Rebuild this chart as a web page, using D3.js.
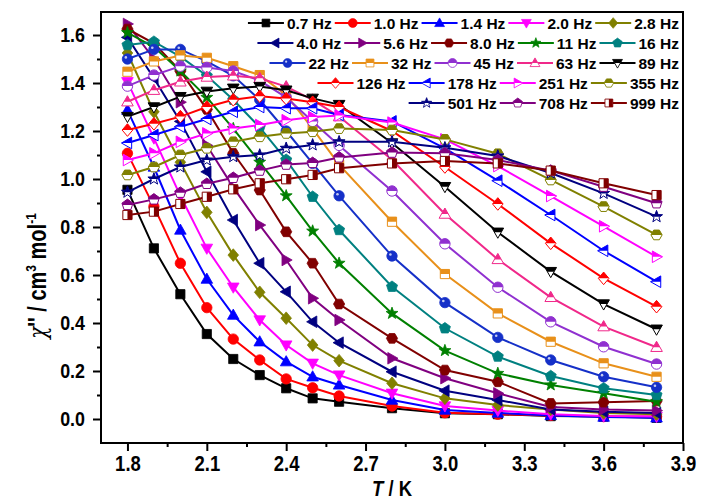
<!DOCTYPE html>
<html><head><meta charset="utf-8">
<script src="https://cdn.jsdelivr.net/npm/d3@7"></script>
<style>
body{margin:0;background:#fff}
svg{display:block}
text{font-family:"Liberation Sans",Arial,sans-serif;font-weight:bold}
</style>
</head><body>
<svg id="chart" width="701" height="501"></svg>
<script>
// Temperatures (K) at which chi'' was measured
const temps = [1.8,1.9,2.0,2.1,2.2,2.3,2.4,2.5,2.6,2.8,3.0,3.2,3.4,3.6,3.8];

// Out-of-phase susceptibility chi'' (cm3 mol-1) per ac frequency
const chi_0p7 = [0.955,0.711,0.52,0.354,0.25,0.183,0.128,0.086,0.072,0.045,0.024,0.02,0.012,0.01,0.005];
const chi_1p0 = [1.107,0.885,0.649,0.464,0.333,0.246,0.167,0.13,0.096,0.054,0.026,0.02,0.015,0.01,0.01];
const chi_1p4 = [1.287,1.05,0.7875,0.583,0.433,0.322,0.239,0.176,0.142,0.079,0.0375,0.025,0.015,0.008,0.005];
const chi_2p0 = [1.405,1.17,0.93,0.711,0.549,0.4125,0.308,0.232,0.183,0.107,0.054,0.035,0.02,0.012,0.01];
const chi_2p8 = [1.525,1.28,1.07,0.861,0.683,0.528,0.42,0.308,0.243,0.149,0.086,0.058,0.04,0.025,0.02];
const chi_4p0 = [1.59,1.42,1.24,1.03,0.829,0.649,0.53,0.405,0.318,0.197,0.118,0.079,0.04,0.03,0.025];
const chi_5p6 = [1.646,1.50,1.32,1.14,0.965,0.808,0.6625,0.503,0.4125,0.253,0.17,0.107,0.05,0.04,0.035];
const chi_8p0 = [1.625,1.565,1.45,1.29,1.107,0.954,0.78,0.649,0.479,0.336,0.204,0.155,0.065,0.07,0.075];
const chi_11  = [1.61,1.55,1.45,1.34,1.21,1.07,0.93,0.783,0.649,0.44,0.285,0.19,0.142,0.107,0.072];
const chi_16  = [1.558,1.572,1.51,1.43,1.33,1.215,1.08,0.926,0.7875,0.551,0.378,0.26,0.179,0.128,0.1];
const chi_22  = [1.50,1.54,1.54,1.49,1.43,1.33,1.20,1.065,0.93,0.679,0.485,0.34,0.246,0.176,0.132];
const chi_32  = [1.447,1.49,1.515,1.505,1.47,1.433,1.35,1.21,1.06,0.822,0.604,0.44,0.322,0.232,0.176];
const chi_45  = [1.387,1.433,1.47,1.465,1.45,1.41,1.34,1.24,1.14,0.95,0.73,0.549,0.405,0.301,0.229];
const chi_63  = [1.322,1.37,1.405,1.425,1.43,1.42,1.385,1.33,1.26,1.08,0.854,0.665,0.507,0.385,0.299];
const chi_89  = [1.26,1.30,1.343,1.365,1.378,1.385,1.37,1.336,1.31,1.15,0.968,0.778,0.614,0.479,0.374];
const chi_126 = [1.204,1.23,1.26,1.30,1.33,1.345,1.335,1.32,1.30,1.20,1.05,0.896,0.732,0.586,0.468];
const chi_178 = [1.15,1.183,1.218,1.25,1.28,1.30,1.295,1.295,1.267,1.24,1.128,0.993,0.85,0.701,0.572];
const chi_251 = [1.079,1.107,1.155,1.19,1.21,1.225,1.245,1.258,1.265,1.235,1.165,1.054,0.929,0.803,0.676];
const chi_355 = [1.017,1.05,1.10,1.128,1.155,1.176,1.19,1.197,1.21,1.204,1.165,1.105,0.996,0.885,0.767];
const chi_501 = [0.945,1.0,1.05,1.079,1.093,1.10,1.128,1.142,1.155,1.155,1.13,1.096,1.025,0.94,0.843];
const chi_708 = [0.892,0.915,0.943,0.98,1.005,1.035,1.06,1.067,1.09,1.11,1.107,1.079,1.035,0.968,0.899];
const chi_999 = [0.85,0.864,0.896,0.926,0.957,0.982,0.999,1.017,1.045,1.065,1.075,1.065,1.035,0.982,0.933];

const freqLabels = ["0.7 Hz","1.0 Hz","1.4 Hz","2.0 Hz","2.8 Hz","4.0 Hz","5.6 Hz","8.0 Hz","11 Hz","16 Hz",
  "22 Hz","32 Hz","45 Hz","63 Hz","89 Hz","126 Hz","178 Hz","251 Hz","355 Hz","501 Hz","708 Hz","999 Hz"];
const chiSeries = [chi_0p7,chi_1p0,chi_1p4,chi_2p0,chi_2p8,chi_4p0,chi_5p6,chi_8p0,chi_11,chi_16,
  chi_22,chi_32,chi_45,chi_63,chi_89,chi_126,chi_178,chi_251,chi_355,chi_501,chi_708,chi_999];
const seriesColors = ["#000000","#FF0000","#0000FF","#FF00FF","#808000","#000080","#800080","#800000","#008000","#008080",
  "#1530C8","#E8901A","#9030D0","#F0288A","#000000","#FF0000","#0000FF","#FF00FF","#808000","#000080","#800080","#800000"];
const seriesShapes = ["square","circle","up","down","diamond","left","right","hexagon","star","pentagon",
  "sphere","square","circle","up","down","diamond","left","right","hexagon","star","pentagon","square"];
// fill style: full, top half, or right half
const seriesFill = ["full","full","full","full","full","full","full","full","full","full",
  "full","top","top","top","top","top","top","top","top","top","top","right"];

const xTicks = [1.8,2.1,2.4,2.7,3.0,3.3,3.6,3.9];
const yTicks = [0.0,0.2,0.4,0.6,0.8,1.0,1.2,1.4,1.6];

const svg = d3.select("#chart");
const x = d3.scaleLinear().domain([1.7,3.9]).range([101,683]);
const y = d3.scaleLinear().domain([-0.1,1.7]).range([443,11]);

// marker outlines, centred on the origin
function poly(pts){ return "M" + pts.map(p => p[0].toFixed(2)+","+p[1].toFixed(2)).join("L") + "Z"; }
function regular(n, r, rot){ const a=[]; for(let i=0;i<n;i++){const t=rot+i*2*Math.PI/n; a.push([r*Math.cos(t), r*Math.sin(t)]);} return a; }
function shapePath(s){
  switch(s){
    case "square": return poly([[-4.6,-4.6],[4.6,-4.6],[4.6,4.6],[-4.6,4.6]]);
    case "circle": case "sphere": return "M5.2,0A5.2,5.2 0 1,1 -5.2,0A5.2,5.2 0 1,1 5.2,0Z";
    case "up": return poly([[0,-6],[5.8,4.2],[-5.8,4.2]]);
    case "down": return poly([[0,6],[5.8,-4.2],[-5.8,-4.2]]);
    case "diamond": return poly([[0,-6.3],[5.3,0],[0,6.3],[-5.3,0]]);
    case "left": return poly([[-6,0],[4.2,-5.8],[4.2,5.8]]);
    case "right": return poly([[6,0],[-4.2,-5.8],[-4.2,5.8]]);
    case "hexagon": return poly(regular(6,5.6,0));
    case "pentagon": return poly(regular(5,5.8,-Math.PI/2));
    case "star": { const a=[]; for(let i=0;i<10;i++){const r=i%2?2.6:6.3; const t=-Math.PI/2+i*Math.PI/5; a.push([r*Math.cos(t),r*Math.sin(t)]);} return poly(a); }
  }
}

const defs = svg.append("defs");
defs.append("clipPath").attr("id","half-top").append("rect").attr("x",-10).attr("y",-10).attr("width",20).attr("height",10);
defs.append("clipPath").attr("id","half-right").append("rect").attr("x",0).attr("y",-10).attr("width",10).attr("height",20);

function drawMarker(g, i){
  const c = seriesColors[i], s = seriesShapes[i], f = seriesFill[i], d = shapePath(s);
  if (f === "full") {
    g.append("path").attr("d", d).attr("fill", c).attr("stroke", c).attr("stroke-width", 0.8);
    if (s === "sphere") g.append("circle").attr("cx",-1.6).attr("cy",-1.6).attr("r",1.3).attr("fill","#ffffff").attr("opacity",0.75);
  } else {
    g.append("path").attr("d", d).attr("fill", "#ffffff");
    g.append("path").attr("d", d).attr("fill", c).attr("clip-path", f === "top" ? "url(#half-top)" : "url(#half-right)");
    g.append("path").attr("d", d).attr("fill", "none").attr("stroke", c).attr("stroke-width", 1);
  }
}

// data curves, drawn in frequency order
const line = d3.line().x((d,j) => x(temps[j])).y(d => y(d));
const plot = svg.append("g");
chiSeries.forEach((vals, i) => {
  const g = plot.append("g");
  g.append("path").attr("d", line(vals)).attr("fill","none").attr("stroke", seriesColors[i]).attr("stroke-width", 2);
  vals.forEach((v, j) => drawMarker(g.append("g").attr("transform", `translate(${x(temps[j])},${y(v)})`), i));
});

// frame
svg.append("rect").attr("x",101).attr("y",12).attr("width",582).attr("height",431)
  .attr("fill","none").attr("stroke","#000").attr("stroke-width",2);

// condensed bold lettering for axis numbers and titles
const squeeze = 0.8;

// x axis: major ticks with labels, minor ticks between
const xMinor = xTicks.slice(0,-1).map((t,i) => (t + xTicks[i+1]) / 2);
const xAxis = svg.append("g").attr("transform","translate(0,443)");
xAxis.call(d3.axisBottom(x).tickValues(xTicks).tickSize(8).tickPadding(4).tickFormat(d3.format(".1f")));
xAxis.append("g").call(d3.axisBottom(x).tickValues(xMinor).tickSize(4).tickFormat(""));
xAxis.selectAll(".domain").remove();
xAxis.selectAll("line").attr("stroke","#000").attr("stroke-width",2);
xAxis.selectAll("text").attr("font-size",22).attr("fill","#000").attr("transform",`scale(${squeeze + 0.04},1)`);

// y axis
const yMinor = yTicks.slice(0,-1).map((t,i) => (t + yTicks[i+1]) / 2);
const yAxis = svg.append("g").attr("transform","translate(101,0)");
yAxis.call(d3.axisLeft(y).tickValues(yTicks).tickSize(8).tickPadding(6).tickFormat(d3.format(".1f")));
yAxis.append("g").call(d3.axisLeft(y).tickValues(yMinor).tickSize(4).tickFormat(""));
yAxis.selectAll(".domain").remove();
yAxis.selectAll("line").attr("stroke","#000").attr("stroke-width",2);
yAxis.selectAll("text").attr("font-size",21).attr("fill","#000")
  .attr("x", -16 / 0.85).attr("transform","scale(0.85,1)");

// axis titles
const xt = svg.append("text").attr("text-anchor","middle").attr("font-size",22)
  .attr("transform",`translate(392,496) scale(${squeeze + 0.04},1)`);
xt.append("tspan").attr("font-style","italic").text("T");
xt.append("tspan").text(" / K");

const yt = svg.append("text").attr("transform",`translate(46,276) rotate(-90) scale(${squeeze},1)`)
  .attr("text-anchor","middle").attr("font-size",25);
yt.append("tspan").attr("font-style","italic").attr("font-family","'DejaVu Serif',serif").attr("font-weight","normal").text("χ");
yt.append("tspan").text("'' / cm");
yt.append("tspan").attr("font-size",15).attr("dy",-10).text("3");
yt.append("tspan").attr("dy",10).text(" mol");
yt.append("tspan").attr("font-size",15).attr("dy",-10).text("-1");

// legend: five rows, right-aligned
const legendRows = [[0,1,2,3,4],[5,6,7,8,9],[10,11,12,13,14],[15,16,17,18],[19,20,21]];
const legend = svg.append("g");
const lineLen = 36, rightEdge = 679;
legendRows.forEach((row, r) => {
  const cy = 23 + r * 20;
  const items = row.map(i => {
    const g = legend.append("g");
    const t = g.append("text").attr("font-size",15.5).attr("y", cy + 5.5).text(freqLabels[i]);
    return {i, g, t, w: t.node().getComputedTextLength()};
  });
  const total = items.reduce((s, it) => s + lineLen + 3 + it.w, 0) + 3 * (items.length - 1);
  let x0 = rightEdge - total;
  items.forEach(it => {
    it.g.insert("line","text").attr("x1", x0).attr("x2", x0 + lineLen).attr("y1", cy).attr("y2", cy)
      .attr("stroke", seriesColors[it.i]).attr("stroke-width", 2);
    drawMarker(it.g.insert("g","text").attr("transform", `translate(${x0 + lineLen/2},${cy}) scale(0.85)`), it.i);
    it.t.attr("x", x0 + lineLen + 3);
    x0 += lineLen + 3 + it.w + 3;
  });
});
</script>
</body></html>
